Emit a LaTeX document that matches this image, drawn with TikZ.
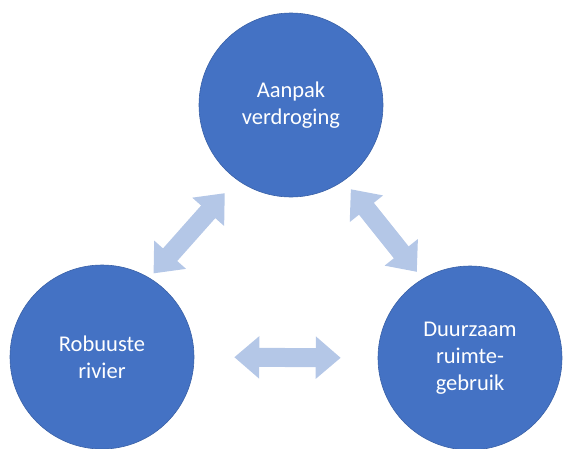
\documentclass[tikz,border=0pt]{standalone}
\usepackage{fontspec}
\setmainfont{Carlito}
\usetikzlibrary{arrows.meta}

\definecolor{circblue}{HTML}{4472C4}
\definecolor{arrblue}{HTML}{B4C7E7}

\begin{document}
\begin{tikzpicture}[x=1pt,y=-1pt,
    topic/.style={circle,fill=circblue,draw=circblue!85!black,line width=0.6pt,
        minimum size=184pt,inner sep=0pt,text=white,align=center,
        font=\fontsize{22.5}{27}\selectfont},
    link/.style={arrblue,line width=19pt,
        {Triangle[length=25pt,width=41pt]}-{Triangle[length=25pt,width=41pt]}}]
    \useasboundingbox (0,0) rectangle (563,448);
    % the three themes
    \node[topic] (verdroging) at (291,105) {Aanpak\\verdroging};
    \node[topic] (rivier) at (102,357) {Robuuste\\rivier};
    \node[topic] (ruimte) at (470,358) {Duurzaam\\ruimte-\\gebruik};
    % links between them
    \draw[link,shorten <=6pt,shorten >=18pt] (rivier.59) -- (verdroging.234);
    \draw[link,shorten <=11pt,shorten >=9pt] (verdroging.-55) -- (ruimte.121);
    \draw[link,shorten <=40pt,shorten >=37pt] (rivier.east) -- (ruimte.west);
\end{tikzpicture}
\end{document}
